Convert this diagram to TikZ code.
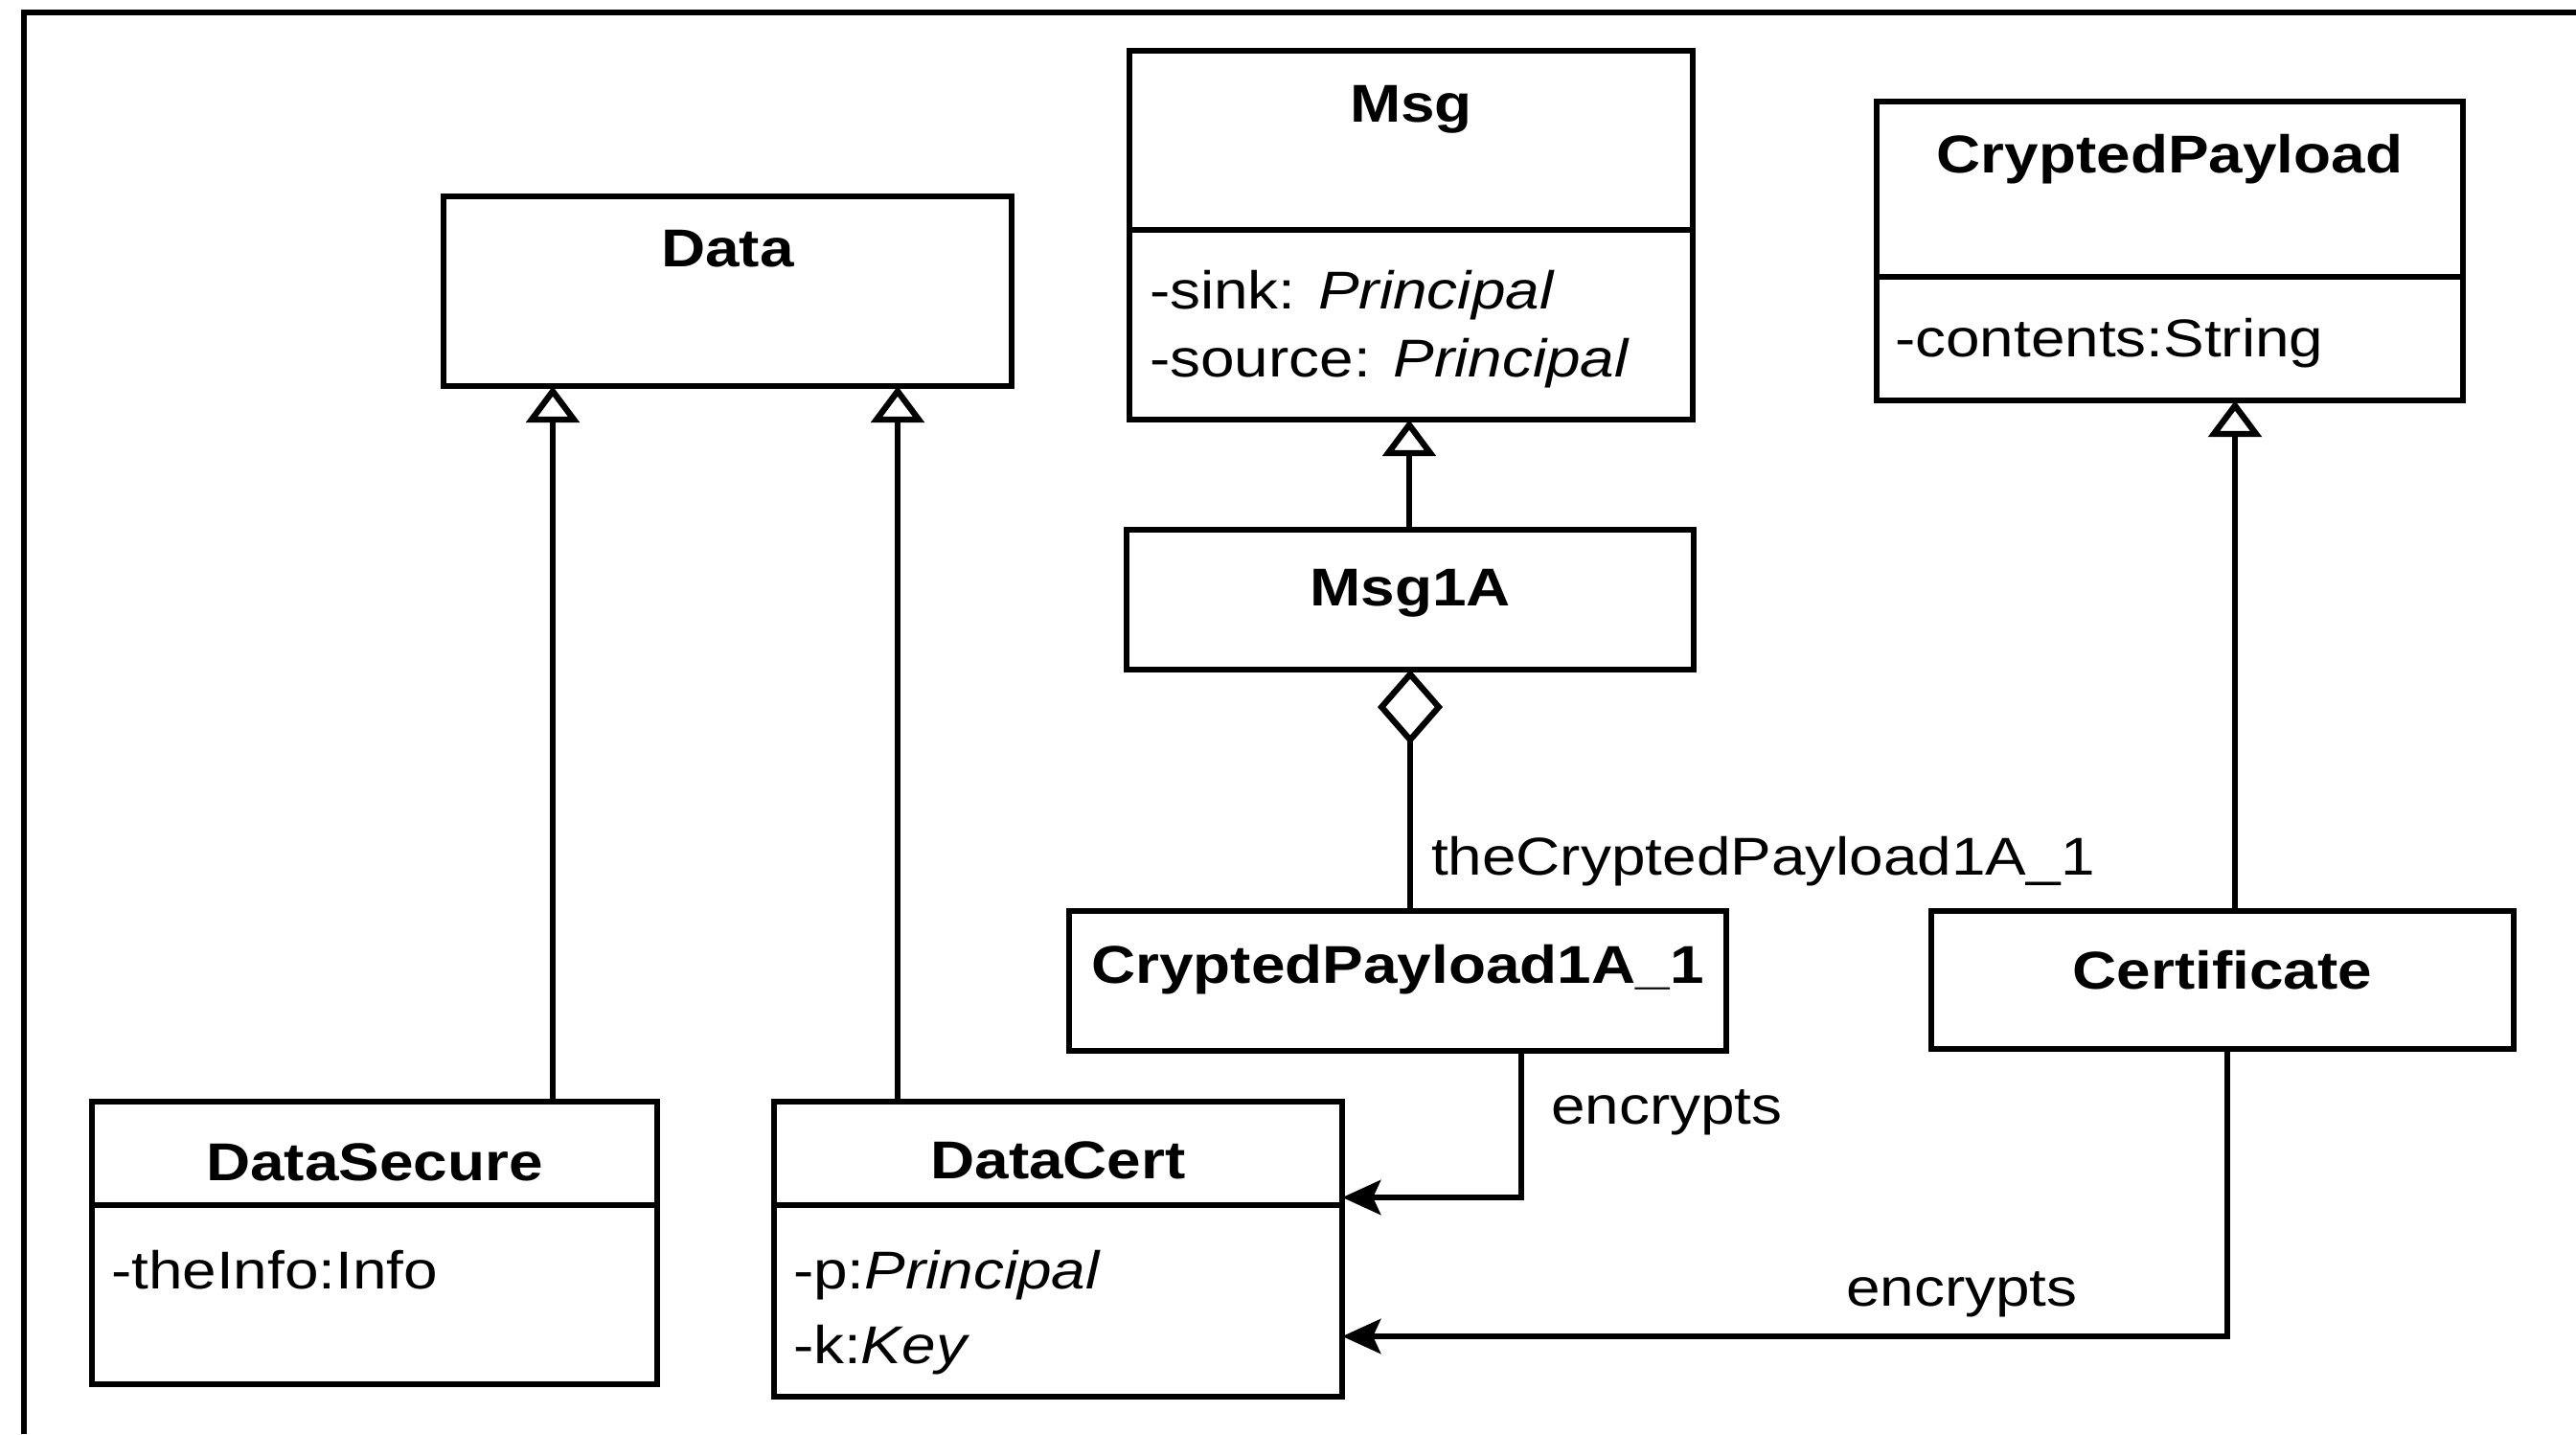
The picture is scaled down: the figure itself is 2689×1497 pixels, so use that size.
\documentclass[tikz,border=0pt]{standalone}
\usepackage{fontspec}
\setmainfont{Liberation Sans}[FakeStretch=1.15]
\usetikzlibrary{arrows.meta}
\newcommand\diagfont{\fontsize{15.8pt}{19pt}\selectfont}
\begin{document}
\begin{tikzpicture}[x=0.01cm, y=-0.01cm,
  every node/.style={font=\diagfont, inner sep=0pt, outer sep=0pt},
  umlbox/.style={draw, line width=1.8pt, rectangle, inner sep=0pt, outer sep=0pt},
  cname/.style={font=\diagfont\bfseries, anchor=base},
  attr/.style={anchor=base west},
  conn/.style={line width=1.8pt},
  gen/.style={conn, -{Triangle[open, length=0.38cm, width=0.55cm]}},
  enc/.style={conn, -{Stealth[length=0.40cm, width=0.36cm, inset=0.08cm]}},
  aggr/.style={conn, {Diamond[open, length=0.78cm, width=0.68cm]}-}]
\useasboundingbox (0,0) rectangle (2689,1497);
\fill[white] (0,0) rectangle (2689,1497);

% outer frame
\draw[line width=1.8pt] (25,1497) -- (25,13) -- (2689,13);

% class boxes
\node[umlbox, minimum width=5.93cm, minimum height=1.98cm] (data) at (759.5,304) {};
\node[umlbox, minimum width=5.88cm, minimum height=3.85cm] (msg) at (1473,245.5) {};
\node[umlbox, minimum width=6.12cm, minimum height=3.12cm] (cpay) at (2265,262) {};
\node[umlbox, minimum width=5.92cm, minimum height=1.46cm] (msg1a) at (1472,626) {};
\node[umlbox, minimum width=6.86cm, minimum height=1.46cm] (cpay1a) at (1459,1024) {};
\node[umlbox, minimum width=6.08cm, minimum height=1.44cm] (cert) at (2320,1023) {};
\node[umlbox, minimum width=5.90cm, minimum height=2.95cm] (dsec) at (391,1297.5) {};
\node[umlbox, minimum width=5.93cm, minimum height=3.08cm] (dcert) at (1104.5,1304) {};

% compartment dividers
\draw[conn] (msg.west |- 0,240) -- (msg.east |- 0,240);
\draw[conn] (cpay.west |- 0,289) -- (cpay.east |- 0,289);
\draw[conn] (dsec.west |- 0,1258) -- (dsec.east |- 0,1258);
\draw[conn] (dcert.west |- 0,1258) -- (dcert.east |- 0,1258);

% class names
\node[cname] (data-n) at (759.5,278) {Data};
\node[cname] (msg-n) at (1473,128) {Msg};
\node[cname] (cpay-n) at (2265,180) {CryptedPayload};
\node[cname] (msg1a-n) at (1472,632) {Msg1A};
\node[cname] (cpay1a-n) at (1459,1026) {CryptedPayload1A\_1};
\node[cname] (cert-n) at (2320,1032) {Certificate};
\node[cname] (dsec-n) at (391,1232) {DataSecure};
\node[cname] (dcert-n) at (1104.5,1230) {DataCert};

% attributes
\node[attr] (msg-a1) at (1200,322) {-sink: \textit{Principal}};
\node[attr] (msg-a2) at (1200,393) {-source: \textit{Principal}};
\node[attr] (cpay-a1) at (1978,372) {-contents:String};
\node[attr] (dsec-a1) at (116,1345) {-theInfo:Info};
\node[attr] (dcert-a1) at (828,1345) {-p:\textit{Principal}};
\node[attr] (dcert-a2) at (828,1423) {-k:\textit{Key}};

% generalizations
\coordinate (g1) at (577,0);
\coordinate (g2) at (937,0);
\coordinate (g3) at (1471,0);
\coordinate (g4) at (2333,0);
\draw[gen] (g1 |- dsec.north) -- (g1 |- data.south);
\draw[gen] (g2 |- dcert.north) -- (g2 |- data.south);
\draw[gen] (g3 |- msg1a.north) -- (g3 |- msg.south);
\draw[gen] (g4 |- cert.north) -- (g4 |- cpay.south);

% aggregation
\draw[aggr] (msg1a.south) -- (msg1a.south |- cpay1a.north);
\node[attr] (role) at (1494,913) {theCryptedPayload1A\_1};

% encrypts associations
\coordinate (e1) at (1588,1250);
\coordinate (e2) at (2325,1395);
\draw[enc] (e1 |- cpay1a.south) -- (e1) -- (e1 -| dcert.east);
\draw[enc] (e2 |- cert.south) -- (e2) -- (e2 -| dcert.east);
\node[attr] (enc1) at (1619,1173) {encrypts};
\node[attr] (enc2) at (1927,1363) {encrypts};
\end{tikzpicture}
\end{document}
